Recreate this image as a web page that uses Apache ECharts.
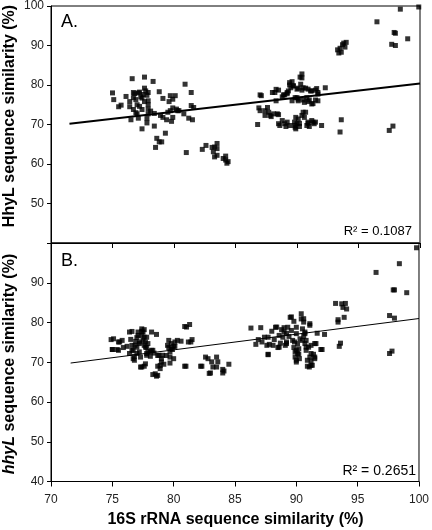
<!DOCTYPE html>
<html>
<head>
<meta charset="utf-8">
<script src="https://cdn.jsdelivr.net/npm/echarts@6/dist/echarts.min.js"></script>
<style>html,body{margin:0;padding:0;background:#fff}#c{width:432px;height:530px}</style>
</head>
<body>
<div id="c"></div>
<script>
// ---------- data ----------
const xTicks = [70, 75, 80, 85, 90, 95, 100];
const yTicks = [40, 50, 60, 70, 80, 90, 100];

// Panel A: HhyL protein similarity vs 16S rRNA similarity
const pointsA = [
  [75.0,78.0],[75.1,76.3],[75.5,74.5],[75.7,74.9],[76.1,77.1],[76.4,75.8],[76.4,74.5],[76.5,71.2],
  [76.7,73.8],[76.7,76.8],[76.7,78.1],[76.6,81.6],[76.8,77.8],[76.9,76.3],[77.0,75.0],[77.0,72.7],
  [77.1,71.6],[77.1,78.0],[77.2,78.2],[77.4,76.7],[77.4,68.9],[77.4,73.8],[77.6,82.0],[77.6,79.2],
  [77.7,78.5],[77.8,77.4],[77.8,71.5],[77.9,72.7],[77.9,76.0],[77.9,78.1],[77.9,75.0],[77.8,70.4],
  [77.9,73.9],[78.3,80.9],[78.4,72.8],[78.4,69.6],[78.5,64.2],[78.6,66.5],[78.8,65.6],[79.0,65.6],
  [78.8,78.3],[78.9,72.3],[79.1,76.6],[79.3,67.8],[79.1,71.8],[79.4,71.2],[79.5,73.1],[79.6,75.8],
  [79.7,77.3],[79.7,73.5],[79.8,70.8],[79.9,71.8],[79.9,76.4],[80.1,77.3],[79.9,74.2],[80.2,73.9],
  [80.3,73.5],[80.4,73.5],[80.8,72.7],[80.9,80.2],[81.0,62.9],[81.4,78.1],[81.2,71.6],[81.5,71.2],
  [81.4,74.8],[81.6,74.3],[77.3,77.0],[77.5,77.6],[77.2,74.6],[76.9,73.0],[78.1,73.4],[77.6,75.8],
  [82.3,63.7],[82.6,64.7],[83.1,64.2],[83.2,63.1],[83.3,64.3],[83.5,65.2],[83.3,61.8],[83.5,62.2],
  [84.0,61.4],[84.2,61.0],[84.4,60.6],[84.3,60.2],[83.5,63.9],[84.2,62.0],
  [86.8,70.0],[86.9,74.2],[87.1,77.3],[87.4,72.3],[87.4,73.5],[87.6,74.3],[87.7,73.1],[87.9,72.0],
  [88.0,78.1],[88.3,78.9],[88.3,76.0],[88.4,72.7],[88.5,70.2],[88.6,69.75],[88.8,77.0],[88.8,71.0],
  [89.0,77.5],[89.1,69.5],[89.2,77.8],[89.3,78.5],[89.4,80.6],[89.5,79.3],[89.6,76.0],[89.7,79.75],
  [89.8,70.6],[89.8,69.75],[89.9,68.9],[89.9,71.8],[90.0,76.8],[90.1,79.2],[90.1,76.0],[90.2,70.3],
  [90.2,69.5],[90.3,80.2],[90.4,81.8],[90.4,82.8],[90.5,79.3],[90.6,71.8],[90.6,75.6],[90.7,73.1],
  [90.7,79.2],[90.8,69.75],[90.8,76.8],[90.9,70.3],[91.0,76.2],[91.0,69.5],[91.1,78.5],[91.2,75.2],
  [91.3,70.6],[91.4,70.2],[91.5,76.2],[91.6,79.1],[91.7,77.7],[92.0,69.75],[92.3,79.3],
  [90.25,82.0],[89.6,80.85],[89.4,80.0],[89.7,79.8],[88.2,78.1],[88.5,78.7],[88.9,77.5],[89.2,78.1],
  [90.0,78.95],[90.4,78.7],[90.9,78.95],[91.2,78.5],[91.5,78.7],[91.7,78.1],[87.0,77.5],[89.85,76.8],
  [90.1,76.4],[90.5,76.2],[90.9,75.8],[91.3,75.3],[91.7,76.0],[87.0,73.5],[87.8,72.3],[88.1,72.7],
  [88.5,72.5],[89.0,70.2],[89.2,70.6],[89.4,69.75],[89.85,69.3],[90.0,70.2],[90.1,71.4],[90.4,72.3],
  [90.5,73.1],[90.9,70.6],[91.2,71.0],[91.5,70.6],
  [93.5,68.1],[93.6,71.2],[97.5,68.5],[97.8,69.6],
  [93.3,88.9],[93.5,89.3],[93.7,90.2],[93.8,90.6],[94.0,90.8],[93.4,88.1],[93.6,88.3],[93.9,89.6],
  [96.5,96.0],[97.9,93.3],[98.0,93.1],[97.7,90.3],[98.0,90.0],[99.0,91.7],[98.4,99.2],[99.9,99.75]
];
const trendA = [[71.5, 70.2], [100, 80.4]];
const r2A = 'R² = 0.1087';

// Panel B: hhyL gene similarity vs 16S rRNA similarity
const pointsB = [
  [74.9,75.7],[75.0,73.2],[75.4,73.2],[75.5,75.1],[75.8,75.5],[75.9,73.7],[76.2,74.0],[76.4,72.2],
  [76.5,75.75],[76.6,77.75],[76.6,74.25],[76.7,73.0],[76.8,71.5],[76.8,70.5],[76.9,75.25],[77.0,73.8],
  [77.0,76.2],[77.1,77.6],[77.2,74.7],[77.2,72.6],[77.3,71.3],[77.3,68.8],[77.4,76.75],[77.4,77.8],
  [77.5,75.5],[77.6,78.2],[77.6,74.25],[77.6,69.0],[77.6,76.3],[77.7,75.1],[77.8,73.7],[77.8,71.75],
  [77.8,76.3],[77.9,74.7],[77.9,72.6],[78.1,71.5],[78.2,77.6],[78.2,73.0],[78.3,66.9],[78.4,72.3],
  [78.6,66.5],[78.6,77.0],[78.7,69.0],[78.8,71.75],[78.9,68.4],[79.0,70.9],[79.1,71.75],[79.2,69.5],
  [79.5,74.25],[79.6,75.5],[79.6,73.7],[79.7,72.6],[79.7,71.3],[79.7,69.8],[79.8,74.7],[79.9,73.2],
  [80.0,74.0],[80.1,75.1],[80.1,74.0],[80.3,75.5],[80.6,75.3],[80.9,69.0],[80.9,79.0],[81.3,79.5],
  [81.2,75.1],[81.5,75.7],[82.2,69.0],[82.6,71.3],[82.9,67.2],[83.1,70.1],[83.2,68.8],
  [77.4,78.4],[77.5,77.6],[77.1,76.75],[77.25,75.1],[76.85,74.25],[76.6,73.0],[77.7,73.8],[77.8,72.2],
  [77.0,72.2],[76.7,70.9],[78.1,72.6],[78.3,73.0],[78.7,71.7],[79.0,70.05],[79.4,71.7],[79.8,73.4],
  [80.0,70.9],[81.05,78.85],[81.4,75.1],[81.0,69.0],[82.3,69.0],[82.8,70.9],[83.0,67.3],
  [75.1,75.9],[75.6,75.1],[75.0,73.2],[75.5,73.0],[76.4,77.6],[77.4,68.8],[77.7,69.6],[78.5,67.1],
  [78.7,66.7],[78.9,69.2],
  [83.5,71.3],[83.6,70.1],[83.5,68.8],[84.0,68.2],[84.0,67.3],[84.5,69.5],[84.1,67.8],
  [86.3,78.6],[86.7,74.5],[86.9,75.7],[87.2,75.1],[87.4,76.3],[87.6,74.25],[87.7,71.9],[87.8,74.5],
  [88.0,77.8],[88.2,75.7],[88.3,78.8],[88.5,73.7],[88.6,76.75],[88.7,74.8],[88.8,78.2],[88.9,76.3],
  [89.0,78.7],[89.1,74.25],[89.2,75.1],[89.2,77.3],[89.3,78.8],[89.4,76.5],[89.5,81.3],[89.6,78.0],
  [89.7,75.5],[89.8,80.3],[89.8,73.7],[89.9,72.6],[89.9,71.3],[90.0,70.5],[90.0,77.2],[90.0,78.8],
  [90.1,74.7],[90.2,72.0],[90.2,73.4],[90.3,75.9],[90.4,80.9],[90.4,82.2],[90.5,78.4],[90.6,76.5],
  [90.6,80.1],[90.7,74.7],[90.7,77.6],[90.8,73.0],[90.8,75.5],[90.9,69.0],[91.0,73.8],[91.1,71.3],
  [91.1,79.7],[91.2,70.3],[91.2,74.25],[91.3,69.25],[91.4,72.0],[91.5,70.9],[91.5,74.7],[91.7,77.3],
  [92.0,73.2],[92.3,77.0],
  [87.1,78.7],[88.4,78.85],[89.6,81.4],[90.6,80.95],[91.1,79.3],[89.0,77.6],[87.7,76.3],[88.1,74.25],
  [88.6,73.8],[89.2,74.7],[89.85,75.1],[87.7,72.0],[90.0,73.0],[90.25,70.9],[90.9,70.5],[91.2,69.2],
  [91.06,68.8],[91.5,71.3],[91.6,74.7],[92.1,73.2],[90.0,70.05],[90.1,72.2],[90.5,75.5],[90.7,77.2],
  [90.8,73.8],[91.2,72.2],
  [93.2,84.8],[93.4,80.7],[93.4,80.1],[93.5,74.0],[93.6,74.8],[93.7,84.7],[93.8,83.8],[93.9,81.3],
  [94.0,84.8],[94.1,83.4],[96.5,92.6],[97.6,81.75],[98.0,81.1],[97.6,72.2],[97.8,72.8],[97.9,88.2],
  [98.0,88.2],[98.4,94.8],[99.0,87.5],[99.8,98.8]
];
const trendB = [[71.6, 69.8], [100, 81.0]];
const r2B = 'R² = 0.2651';

// ---------- chart ----------
const FONT = 'Liberation Sans, Arial, sans-serif';
const chart = echarts.init(document.getElementById('c'), null, {renderer: 'canvas'});

function yAxisFor(gridIndex, hideVal) {
  return {
    gridIndex, type: 'value', min: 40, max: 100, interval: 10,
    axisLine: {show: true, lineStyle: {color: '#000', width: 1}},
    axisTick: {show: true, length: 4, lineStyle: {color: '#000'}},
    axisLabel: {fontFamily: FONT, fontSize: 12, color: '#222', margin: 7,
      formatter: v => (v === hideVal ? '' : String(v))},
    splitLine: {show: false}
  };
}
function xAxisFor(gridIndex, showLabels) {
  return {
    gridIndex, type: 'value', min: 70, max: 100, interval: 5,
    axisLine: {show: true, onZero: false, lineStyle: {color: '#000', width: 1}},
    axisTick: {show: true, length: 5, lineStyle: {color: '#000'}},
    axisLabel: {show: showLabels, fontFamily: FONT, fontSize: 12, color: '#222', margin: 12},
    splitLine: {show: false}
  };
}

chart.setOption({
  animation: false,
  backgroundColor: '#fff',
  grid: [
    {left: 51, top: 4, width: 369, height: 239, show: true, borderColor: '#000', borderWidth: 1, backgroundColor: 'transparent'},
    {left: 51, top: 243, width: 369, height: 238.5, show: true, borderColor: '#000', borderWidth: 1, backgroundColor: 'transparent'}
  ],
  xAxis: [xAxisFor(0, false), xAxisFor(1, true)],
  yAxis: [yAxisFor(0, 40), yAxisFor(1, 100)],
  series: [
    {type: 'scatter', xAxisIndex: 0, yAxisIndex: 0, data: pointsA, symbol: 'rect', symbolSize: 5,
      itemStyle: {color: '#000'}, silent: true},
    {type: 'line', xAxisIndex: 0, yAxisIndex: 0, data: trendA, symbol: 'none',
      lineStyle: {color: '#000', width: 2}, silent: true},
    {type: 'scatter', xAxisIndex: 1, yAxisIndex: 1, data: pointsB, symbol: 'rect', symbolSize: 5,
      itemStyle: {color: '#000'}, silent: true},
    {type: 'line', xAxisIndex: 1, yAxisIndex: 1, data: trendB, symbol: 'none',
      lineStyle: {color: '#000', width: 1}, silent: true}
  ],
  graphic: [
    {type: 'text', left: 61, top: 13, style: {text: 'A.', font: '18px ' + FONT, fill: '#000'}},
    {type: 'text', left: 61, top: 252, style: {text: 'B.', font: '18px ' + FONT, fill: '#000'}},
    {type: 'text', x: 412, y: 231, style: {text: r2A, font: '13px ' + FONT, fill: '#000', textAlign: 'right', textVerticalAlign: 'middle'}},
    {type: 'text', x: 416, y: 471, style: {text: r2B, font: '14px ' + FONT, fill: '#000', textAlign: 'right', textVerticalAlign: 'middle'}},
    {type: 'text', x: 10, y: 116, rotation: Math.PI / 2,
      style: {text: 'HhyL sequence similarity (%)', font: 'bold 16px ' + FONT, fill: '#000', textAlign: 'center', textVerticalAlign: 'middle'}},
    {type: 'text', x: 10, y: 364, rotation: Math.PI / 2,
      style: {text: '{i|hhyL} sequence similarity (%)', font: 'bold 16px ' + FONT, fill: '#000', textAlign: 'center', textVerticalAlign: 'middle',
        rich: {i: {fontStyle: 'italic', fontWeight: 'bold', fontSize: 16, fontFamily: FONT, fill: '#000'}}}},
    {type: 'text', x: 235.5, y: 520,
      style: {text: '16S rRNA sequence similarity (%)', font: 'bold 16px ' + FONT, fill: '#000', textAlign: 'center', textVerticalAlign: 'middle'}}
  ]
});
</script>
</body>
</html>
